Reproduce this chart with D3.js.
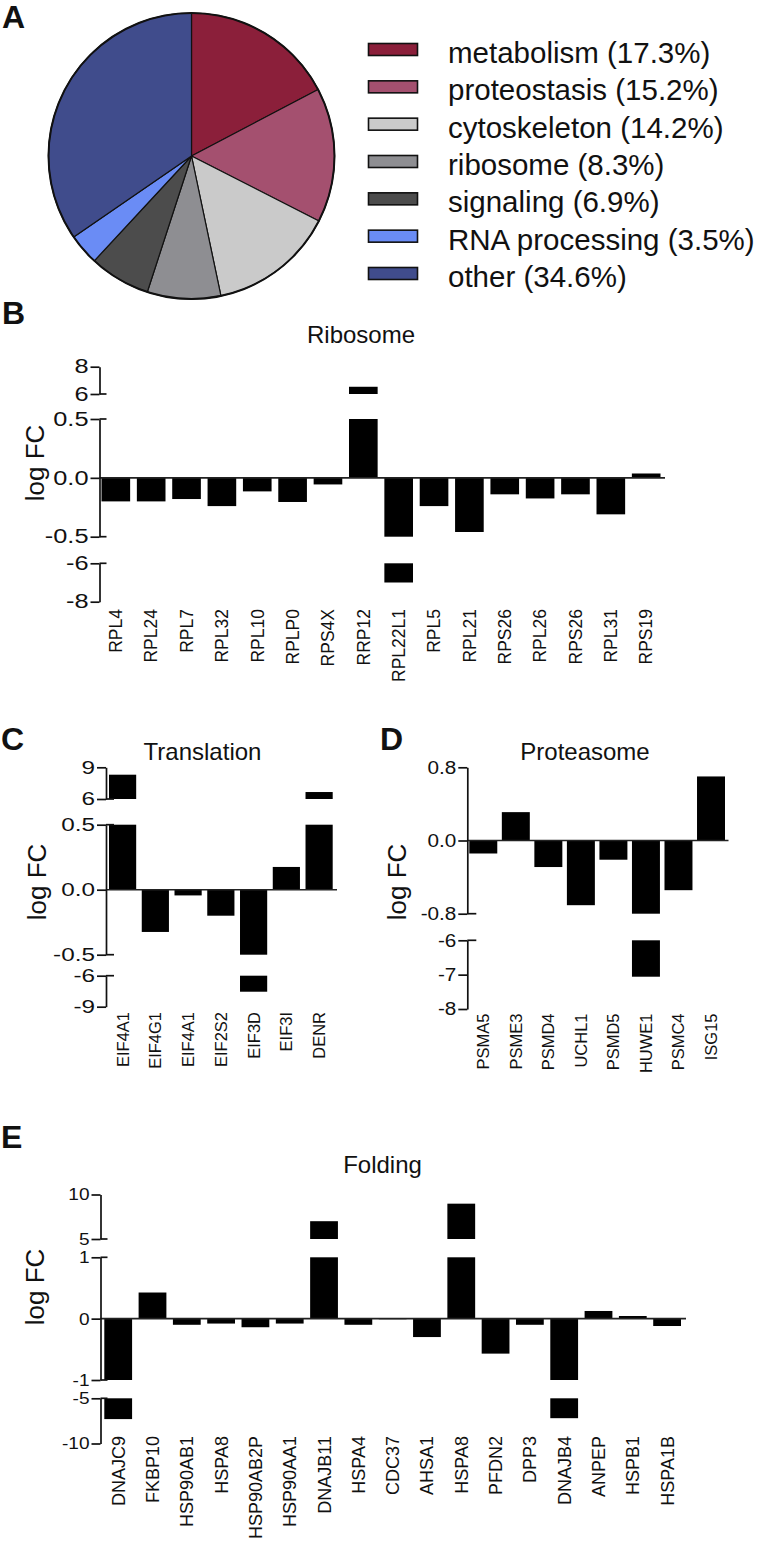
<!DOCTYPE html>
<html><head><meta charset="utf-8">
<script src="https://cdn.jsdelivr.net/npm/d3@7"></script>
<style>
body{margin:0;background:#fff}
svg{display:block}
text{font-family:"Liberation Sans",Arial,Helvetica,sans-serif;fill:#111}
</style>
</head><body>
<svg id="chart" width="763" height="1544"></svg>
<script>
// ---------- DATA ----------
// Panel A
const pieCategories = ["metabolism","proteostasis","cytoskeleton","ribosome","signaling","RNA processing","other"];
const pieValues = [17.3, 15.2, 14.2, 8.3, 6.9, 3.5, 34.6];
const pieColors = ["#8b1f3a","#a4506f","#cacaca","#8e8e92","#4c4c4c","#6a8cf5","#404c8c"];

// Panel B
const ribosomeGenes = ["RPL4","RPL24","RPL7","RPL32","RPL10","RPLP0","RPS4X","RRP12","RPL22L1","RPL5","RPL21","RPS26","RPL26","RPS26","RPL31","RPS19"];
const ribosomeValues = [-0.20,-0.20,-0.18,-0.24,-0.115,-0.205,-0.056,6.53,-7.0,-0.24,-0.46,-0.14,-0.175,-0.14,-0.31,0.037];
const ribosomeTicks = {top:[8,6], main:[0.5,0,-0.5], bottom:[-6,-8]};
const ribosomeTickLabels = {top:["8","6"], main:["0.5","0.0","-0.5"], bottom:["-6","-8"]};

// Panel C
const translationGenes = ["EIF4A1","EIF4G1","EIF4A1","EIF2S2","EIF3D","EIF3I","DENR"];
const translationValues = [8.3,-0.325,-0.044,-0.2,-7.55,0.175,6.66];
const translationTicks = {top:[9,6], main:[0.5,0,-0.5], bottom:[-6,-9]};
const translationTickLabels = {top:["9","6"], main:["0.5","0.0","-0.5"], bottom:["-6","-9"]};

// Panel D
const proteasomeGenes = ["PSMA5","PSME3","PSMD4","UCHL1","PSMD5","HUWE1","PSMC4","ISG15"];
const proteasomeValues = [-0.142,0.31,-0.29,-0.707,-0.21,-7.06,-0.543,0.70];
const proteasomeTicks = {main:[0.8,0,-0.8], bottom:[-6,-7,-8]};
const proteasomeTickLabels = {main:["0.8","0.0","-0.8"], bottom:["-6","-7","-8"]};

// Panel E
const foldingGenes = ["DNAJC9","FKBP10","HSP90AB1","HSPA8","HSP90AB2P","HSP90AA1","DNAJB11","HSPA4","CDC37","AHSA1","HSPA8","PFDN2","DPP3","DNAJB4","ANPEP","HSPB1","HSPA1B"];
const foldingValues = [-7.3,0.426,-0.1,-0.08,-0.14,-0.08,7.0,-0.1,-0.01,-0.3,8.97,-0.57,-0.1,-7.2,0.125,0.043,-0.12];
const foldingTicks = {top:[10,5], main:[1,0,-1], bottom:[-5,-10]};
const foldingTickLabels = {top:["10","5"], main:["1","0","-1"], bottom:["-5","-10"]};

// ---------- DRAW ----------
const svg = d3.select("#chart");

function stretch(sel, k){
  sel.each(function(){
    const L = this.getComputedTextLength();
    this.setAttribute("textLength", L*k);
    this.setAttribute("lengthAdjust","spacingAndGlyphs");
  });
}

function panelLetter(t, x, y){
  svg.append("text").attr("x",x).attr("y",y).attr("font-size",32).attr("font-weight","bold").text(t);
}

// ----- Panel A -----
panelLetter("A", 2, 28);
const pieG = svg.append("g").attr("transform","translate(191.5,156)");
const pie = d3.pie().sort(null).value(d=>d)(pieValues);
const arc = d3.arc().innerRadius(0).outerRadius(143);
pieG.selectAll("path").data(pie).join("path")
  .attr("d", arc).attr("fill",(d,i)=>pieColors[i])
  .attr("stroke","#111").attr("stroke-width",1.2).attr("stroke-linejoin","round");
pieG.append("circle").attr("r",143).attr("fill","none").attr("stroke","#111").attr("stroke-width",2);

const legY = d3.scalePoint().domain(pieCategories).range([49.5, 273.5]);
const legG = svg.append("g");
pieCategories.forEach((c,i)=>{
  legG.append("rect").attr("x",368.5).attr("y",legY(c)-6).attr("width",49).attr("height",12)
    .attr("fill",pieColors[i]).attr("stroke","#111").attr("stroke-width",1.6);
  legG.append("text").attr("x",448).attr("y",legY(c)+13.5).attr("font-size",29.5)
    .text(`${c} (${pieValues[i]}%)`);
});

// ----- bar panels -----
function barPanel(o){
  const g = svg.append("g");
  const n = o.genes.length;
  const x = d3.scaleBand().domain(d3.range(n)).range(o.band).paddingInner(o.padInner).paddingOuter(0);
  const segs = o.segments.map(s=>({...s, scale:d3.scaleLinear().domain([s.lo,s.hi]).range([s.bot,s.top])}));
  const main = segs.find(s=>s.lo<=0 && s.hi>=0);

  // bars
  segs.forEach(s=>{
    const pieces = [];
    o.values.forEach((v,i)=>{
      let a=null,b=null;
      if (s.lo<=0 && s.hi>=0){ a=0; b=Math.max(s.lo,Math.min(s.hi,v)); }
      else if (s.lo>0 && v>s.lo){ a=s.lo; b=Math.min(v,s.hi); }
      else if (s.hi<0 && v<s.hi){ a=s.hi; b=Math.max(v,s.lo); }
      if (a!==null) pieces.push({i,a,b});
    });
    g.append("g").selectAll("rect").data(pieces).join("rect")
      .attr("x",d=>x(d.i)).attr("width",x.bandwidth())
      .attr("y",d=>Math.min(s.scale(d.a),s.scale(d.b)))
      .attr("height",d=>Math.abs(s.scale(d.a)-s.scale(d.b)))
      .attr("fill","#000");
  });

  // x axis line at zero
  g.append("line").attr("x1",o.axisX).attr("x2",o.axisEnd)
    .attr("y1",main.scale(0)).attr("y2",main.scale(0))
    .attr("stroke","#222").attr("stroke-width",1.6);

  // y axis segments
  segs.forEach(s=>{
    const ax = d3.axisLeft(s.scale).tickValues(s.ticks)
      .tickFormat((d,i)=>s.labels[i]).tickSize(9).tickSizeOuter(0).tickPadding(2);
    const ag = g.append("g").attr("transform",`translate(${o.axisX},0)`).call(ax);
    ag.select(".domain").attr("stroke","#111").attr("stroke-width",1.7);
    ag.selectAll(".tick line").attr("stroke","#111").attr("stroke-width",1.7);
    ag.selectAll(".tick text").attr("font-size",o.tickFont).attr("fill","#111")
      .attr("font-family",'"Liberation Sans",Arial,sans-serif');
    stretch(ag.selectAll(".tick text"), o.tickStretch);
    (s.breaks||[]).forEach(b=>{
      ag.append("line").attr("x1",0).attr("x2",o.breakLen).attr("y1",s.scale(b)).attr("y2",s.scale(b))
        .attr("stroke","#111").attr("stroke-width",1.7);
    });
  });

  // x labels
  g.append("g").selectAll("text").data(o.genes).join("text")
    .attr("transform",(d,i)=>`translate(${x(i)+x.bandwidth()/2},${o.labelTop}) rotate(-90)`)
    .attr("text-anchor","end").attr("dy","0.36em").attr("font-size",o.labelFont)
    .text(d=>d);

  // y title
  g.append("text").attr("transform",`translate(${o.ylabX},${o.ylabY}) rotate(-90)`)
    .attr("text-anchor","middle").attr("dy","0.36em").attr("font-size",o.ylabFont).text("log FC");

  // title
  g.append("text").attr("x",o.titleX).attr("y",o.titleY).attr("text-anchor","middle")
    .attr("font-size",24).text(o.title);
}

function segsFrom(ticks, labels, spec){
  return spec.map(s=>({...s, ticks:ticks[s.key], labels:labels[s.key]}));
}

// Panel B
panelLetter("B", 2, 324);
barPanel({
  genes:ribosomeGenes, values:ribosomeValues, title:"Ribosome", titleX:361, titleY:343,
  axisX:99.5, axisEnd:665, band:[101.5,660.5], padInner:0.19,
  segments:segsFrom(ribosomeTicks, ribosomeTickLabels, [
    {key:"top", lo:6, hi:8, bot:394, top:366.7, breaks:[6]},
    {key:"main", lo:-0.5, hi:0.5, bot:536.7, top:419, breaks:[0.5,-0.5]},
    {key:"bottom", lo:-8, hi:-6, bot:601.7, top:563.3, breaks:[-6]}
  ]),
  tickFont:19.5, tickStretch:1.3, breakLen:7, labelTop:609, labelFont:17.5,
  ylabX:35, ylabY:463, ylabFont:26
});

// Panel C
panelLetter("C", 1, 750);
barPanel({
  genes:translationGenes, values:translationValues, title:"Translation", titleX:202.5, titleY:760,
  axisX:106, axisEnd:337, band:[109,332.7], padInner:0.17,
  segments:segsFrom(translationTicks, translationTickLabels, [
    {key:"top", lo:6, hi:9, bot:799, top:767.3, breaks:[6]},
    {key:"main", lo:-0.5, hi:0.5, bot:954.7, top:824.7, breaks:[0.5,-0.5]},
    {key:"bottom", lo:-9, hi:-6, bot:1006.7, top:975.7, breaks:[-6]}
  ]),
  tickFont:18, tickStretch:1.35, breakLen:8, labelTop:1012, labelFont:16.5,
  ylabX:37, ylabY:882, ylabFont:26
});

// Panel D
panelLetter("D", 380, 750);
barPanel({
  genes:proteasomeGenes, values:proteasomeValues, title:"Proteasome", titleX:585, titleY:760,
  axisX:467.3, axisEnd:728.5, band:[469.3,725], padInner:0.14,
  segments:segsFrom(proteasomeTicks, proteasomeTickLabels, [
    {key:"main", lo:-0.8, hi:0.8, bot:913.7, top:767.3, breaks:[-0.8]},
    {key:"bottom", lo:-8, hi:-6, bot:1009, top:940.3, breaks:[-6]}
  ]),
  tickFont:18, tickStretch:1.15, breakLen:9, labelTop:1013.5, labelFont:16.5,
  ylabX:397, ylabY:882, ylabFont:26
});

// Panel E
panelLetter("E", 1, 1148);
barPanel({
  genes:foldingGenes, values:foldingValues, title:"Folding", titleX:382.5, titleY:1173,
  axisX:100.5, axisEnd:686, band:[104.3,681], padInner:0.19,
  segments:segsFrom(foldingTicks, foldingTickLabels, [
    {key:"top", lo:5, hi:10, bot:1239, top:1194.5, breaks:[5]},
    {key:"main", lo:-1, hi:1, bot:1380, top:1257.3, breaks:[1,-1]},
    {key:"bottom", lo:-10, hi:-5, bot:1443.5, top:1398.3, breaks:[-5]}
  ]),
  tickFont:17, tickStretch:1.12, breakLen:7, labelTop:1436, labelFont:18,
  ylabX:35, ylabY:1287, ylabFont:26
});
</script>
</body></html>
